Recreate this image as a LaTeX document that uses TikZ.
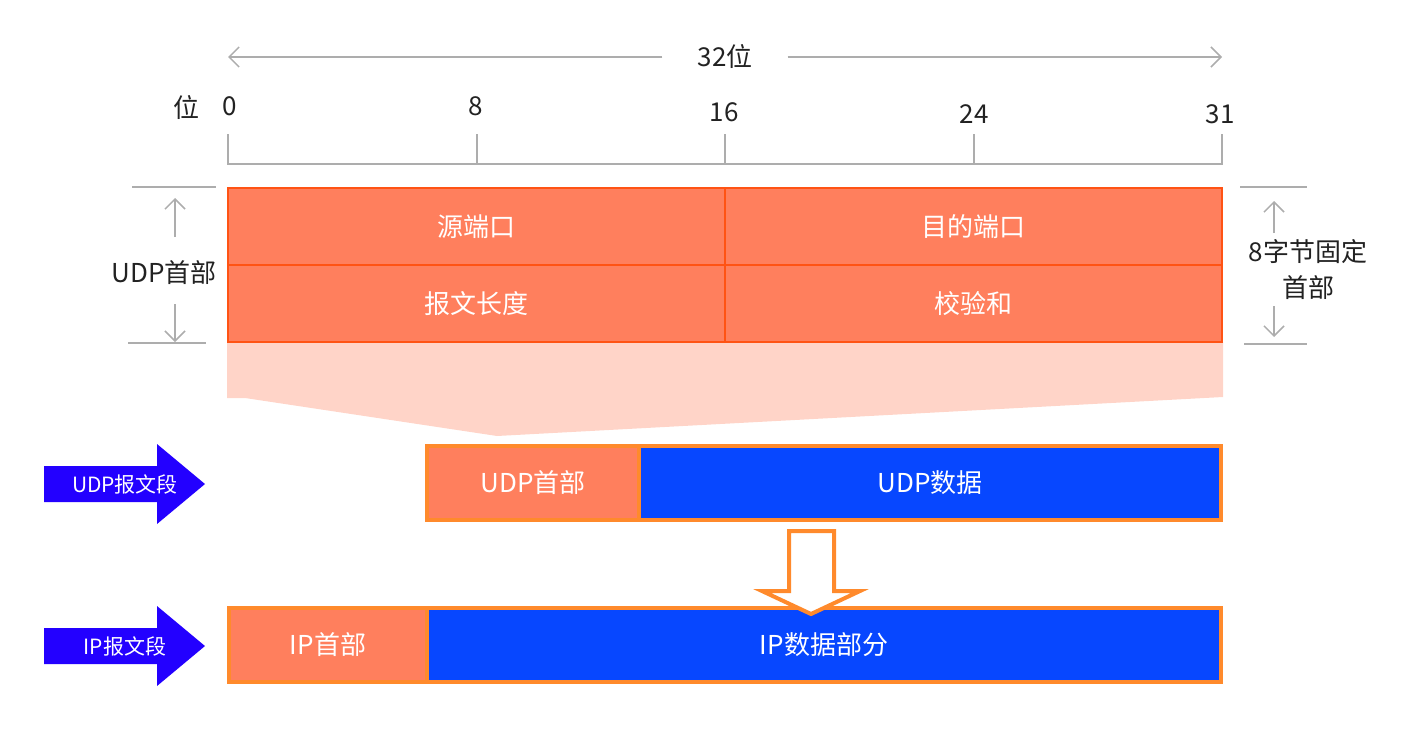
\documentclass[tikz,border=0pt]{standalone}
\usepackage{fontspec}
\setmainfont{Noto Sans CJK SC}
\usetikzlibrary{arrows.meta}
\definecolor{coral}{HTML}{FF7F5D}
\definecolor{coraledge}{HTML}{FF5314}
\definecolor{segedge}{HTML}{FF8A2C}
\definecolor{segblue}{HTML}{0747FF}
\definecolor{arrblue}{HTML}{2300FF}
\definecolor{pink}{HTML}{FFD4C8}
\definecolor{dimgray}{HTML}{ADADAD}
\definecolor{ink}{HTML}{222222}
\tikzset{
  x=1pt, y=-1pt,
  lbl/.style={font=\fontsize{26}{29}\selectfont, text=ink, inner sep=0pt},
  slbl/.style={font=\fontsize{21}{24}\selectfont, text=white, inner sep=0pt},
  dimline/.style={draw=dimgray, line width=1.5pt},
  dimarrow/.style={dimline, -{Straight Barb[length=10pt,width=20pt,line width=1.5pt]}},
  hcell/.style={draw=coraledge, fill=coral, line width=2pt, minimum width=497pt, minimum height=77pt, inner sep=0pt, font=\fontsize{26}{29}\selectfont, text=white},
  segcell/.style={draw=segedge, line width=4pt, minimum height=74pt, inner sep=0pt, font=\fontsize{26}{29}\selectfont, text=white},
}
\begin{document}
\begin{tikzpicture}
\useasboundingbox (0,0) rectangle (1408,752);
% top 32 bit arrow
\node[lbl, inner xsep=35pt] (t32) at (725,57) {32位};
\coordinate (tl) at (228,57);
\coordinate (tr) at (1222,57);
\draw[dimarrow] (t32.west) -- (tl);
\draw[dimarrow] (t32.east) -- (tr);
% scale
\node[lbl] (wei) at (186,108) {位};
\node[lbl] (n0) at (230,106) {0};
\node[lbl] (n8) at (476,106) {8};
\node[lbl] (n16) at (724,112) {16};
\node[lbl] (n24) at (974,114) {24};
\node[lbl] (n31) at (1220,114) {31};
\coordinate (s0) at (228,134);
\coordinate (s31) at (1222,134);
\draw[dimline] (s0) -- (228,164) -- (1222,164) -- (s31);
\coordinate (s8) at (477,134);
\coordinate (s16) at (725,134);
\coordinate (s24) at (974,134);
\draw[dimline] (s8) -- (477,164);
\draw[dimline] (s16) -- (725,164);
\draw[dimline] (s24) -- (974,164);
% pink trapezoid
\fill[pink] (227,342) -- (1223,342) -- (1223,397) -- (497,436) -- (245,398) -- (227,398) -- cycle;
% header cells
\node[hcell] (src) at (476.5,226.5) {源端口};
\node[hcell] (dst) at (973.5,226.5) {目的端口};
\node[hcell] (len) at (476.5,303.5) {报文长度};
\node[hcell] (chk) at (973.5,303.5) {校验和};
% left dimension
\node[lbl] (udphdr) at (164,273) {UDP首部};
\coordinate (lt1) at (132,187); \coordinate (lt2) at (216,187);
\coordinate (lb1) at (128,343); \coordinate (lb2) at (206,343);
\draw[dimline] (lt1) -- (lt2);
\draw[dimline] (lb1) -- (lb2);
\coordinate (lua) at (175,237); \coordinate (lut) at (175,198);
\coordinate (lda) at (175,304); \coordinate (ldt) at (175,342);
\draw[dimarrow] (lua) -- (lut);
\draw[dimarrow] (lda) -- (ldt);
% right dimension
\node[lbl, align=center, font=\fontsize{26}{36}\selectfont] (fixed) at (1308,270) {8字节固定\\首部};
\coordinate (rt1) at (1240,187); \coordinate (rt2) at (1307,187);
\coordinate (rb1) at (1244,344); \coordinate (rb2) at (1307,344);
\draw[dimline] (rt1) -- (rt2);
\draw[dimline] (rb1) -- (rb2);
\coordinate (rua) at (1274,233); \coordinate (rut) at (1274,201);
\coordinate (rda) at (1274,306); \coordinate (rdt) at (1274,337);
\draw[dimarrow] (rua) -- (rut);
\draw[dimarrow] (rda) -- (rdt);
% UDP segment
\node[segcell, fill=coral, minimum width=212pt] (udph) at (533,483) {UDP首部};
\node[segcell, fill=segblue, minimum width=582pt] (udpd) at (930,483) {UDP数据};
% IP segment
\node[segcell, fill=coral, minimum width=198pt] (iph) at (328,645) {IP首部};
\node[segcell, fill=segblue, minimum width=794pt] (ipd) at (824,645) {IP数据部分};
% hollow down arrow
\draw[draw=segedge, fill=white, line width=4pt, line join=miter]
  (789,531) -- (834,531) -- (834,591) -- (860,591) -- (811,614) -- (762,591) -- (789,591) -- cycle;
% blue block arrows
\fill[arrblue] (44,466) -- (157,466) -- (157,444) -- (205,484) -- (157,524) -- (157,502) -- (44,502) -- cycle;
\node[slbl] (udpseg) at (125,484) {UDP报文段};
\fill[arrblue] (44,628) -- (157,628) -- (157,606) -- (205,646) -- (157,686) -- (157,664) -- (44,664) -- cycle;
\node[slbl] (ipseg) at (125,646) {IP报文段};
\end{tikzpicture}
\end{document}
